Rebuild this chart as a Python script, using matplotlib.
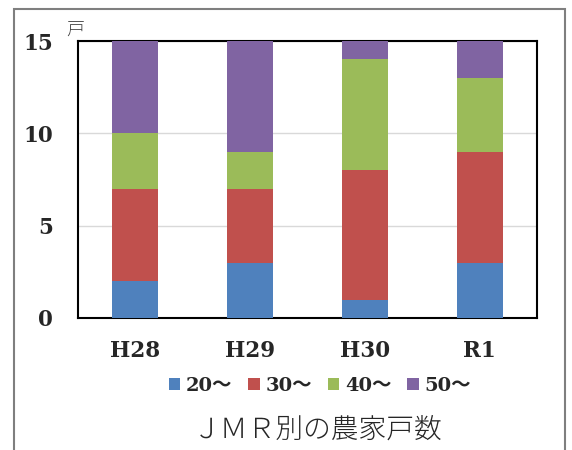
import matplotlib
matplotlib.use("Agg")
import matplotlib.pyplot as plt
from matplotlib.patches import Rectangle
import numpy as np

categories = ["H28", "H29", "H30", "R1"]
series_names = ["20～", "30～", "40～", "50～"]
age20 = [2, 3, 1, 3]
age30 = [5, 4, 7, 6]
age40 = [3, 2, 6, 4]
age50 = [5, 6, 1, 2]
y_ticks = [0, 5, 10, 15]

colors = ["#4F81BD", "#C0504D", "#9BBB59", "#8064A2"]
serif_bold = ["DejaVu Serif", "Noto Sans CJK JP"]

fig = plt.figure(figsize=(5.72, 4.5), dpi=100)
fig.patch.set_facecolor("white")

# outer frame
fig.patches.append(Rectangle((14 / 572, -0.05), (565 - 14) / 572, 1.05 - 9 / 450,
                             transform=fig.transFigure, fill=False,
                             edgecolor="#7f7f7f", linewidth=1.5))

ax = fig.add_axes([78 / 572, 1 - 318 / 450, (537 - 78) / 572, (318 - 41) / 450])
x = np.arange(len(categories))
bottom = np.zeros(len(categories))
for name, vals, c in zip(series_names, [age20, age30, age40, age50], colors):
    ax.bar(x, vals, width=0.4, bottom=bottom, color=c, label=name, zorder=3)
    bottom += np.array(vals)

ax.set_xlim(-0.5, len(categories) - 0.5)
ax.set_ylim(0, 15)
ax.set_yticks(y_ticks)
ax.set_xticks(x)
ax.set_xticklabels(categories)
ax.yaxis.grid(True, color="#d9d9d9", linewidth=1, zorder=0)
ax.tick_params(axis="both", length=0)
ax.tick_params(axis="y", pad=18)
ax.tick_params(axis="x", pad=16)
for lab in ax.get_xticklabels() + ax.get_yticklabels():
    lab.set_fontfamily(serif_bold)
    lab.set_fontweight("bold")
    lab.set_fontsize(15.5)
    lab.set_color("#262626")
for s in ax.spines.values():
    s.set_color("black")
    s.set_linewidth(1.5)

fig.text(66 / 572, 1 - 31 / 450, "戸", family=["Noto Sans CJK JP"], fontweight="light",
         fontsize=13, color="#404040", ha="left", va="center")

leg = fig.legend(loc="center", bbox_to_anchor=(320 / 572, 1 - 386 / 450), ncol=4,
                 frameon=False, handlelength=0.6, handleheight=0.6,
                 handletextpad=0.3, columnspacing=0.8,
                 prop={"family": serif_bold, "weight": "bold", "size": 14})
for t in leg.get_texts():
    t.set_color("#262626")

fig.text(318 / 572, 1 - 430 / 450, "ＪＭＲ別の農家戸数", family=["Noto Sans CJK JP"],
         fontweight="light", fontsize=20, color="#262626", ha="center", va="center")

fig.savefig("out.png", dpi=100)
